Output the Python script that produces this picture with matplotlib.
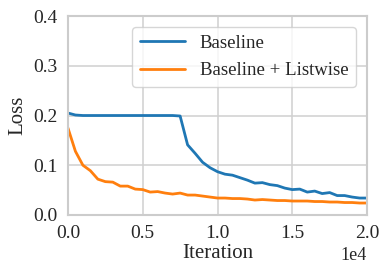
import matplotlib
matplotlib.use("Agg")
import matplotlib.pyplot as plt
import numpy as np
import seaborn as sns

iterations = np.arange(0, 20001, 500)

baseline = [
    0.205, 0.201, 0.200, 0.200, 0.200, 0.200, 0.200, 0.200, 0.200, 0.200,
    0.200, 0.200, 0.200, 0.200, 0.200, 0.199, 0.141, 0.124, 0.106, 0.095,
    0.087, 0.082, 0.080, 0.075, 0.070, 0.064, 0.065, 0.061, 0.059, 0.054,
    0.051, 0.052, 0.046, 0.048, 0.043, 0.045, 0.039, 0.039, 0.036, 0.034,
    0.034,
]
listwise = [
    0.175, 0.128, 0.100, 0.089, 0.072, 0.067, 0.066, 0.058, 0.058, 0.052,
    0.051, 0.046, 0.047, 0.044, 0.042, 0.044, 0.040, 0.040, 0.038, 0.036,
    0.034, 0.034, 0.033, 0.033, 0.032, 0.030, 0.031, 0.030, 0.029, 0.029,
    0.028, 0.028, 0.028, 0.027, 0.027, 0.026, 0.026, 0.025, 0.025, 0.024,
    0.024,
]

sns.set_style("whitegrid")
plt.rcParams["font.family"] = ["Liberation Serif", "DejaVu Serif"]

fig = plt.figure(figsize=(3.86, 2.77), dpi=100)
ax = fig.add_axes([0.176, 0.224, 0.775, 0.718])

ax.plot(iterations, baseline, color="#1f77b4", linewidth=2.0, label="Baseline")
ax.plot(iterations, listwise, color="#ff7f0e", linewidth=2.0, label="Baseline + Listwise")

ax.set_xlim(0, 20000)
ax.set_ylim(0, 0.4)
ax.set_xticks([0, 5000, 10000, 15000, 20000])
ax.set_yticks([0.0, 0.1, 0.2, 0.3, 0.4])
ax.grid(color="#d0d0d0", linewidth=1.1)
for spine in ax.spines.values():
    spine.set_visible(True)
    spine.set_color("#cccccc")
    spine.set_linewidth(1.5)

ax.ticklabel_format(axis="x", style="sci", scilimits=(0, 0))
ax.xaxis.get_offset_text().set_fontsize(13)
ax.tick_params(labelsize=14, pad=4)
ax.set_xlabel("Iteration", fontsize=15, labelpad=1)
ax.set_ylabel("Loss", fontsize=15, labelpad=4)

leg = ax.legend(loc="upper right", fontsize=13.5, handlelength=2.4,
                borderaxespad=0.6, labelspacing=0.55)

fig.savefig("out.png", dpi=100)
